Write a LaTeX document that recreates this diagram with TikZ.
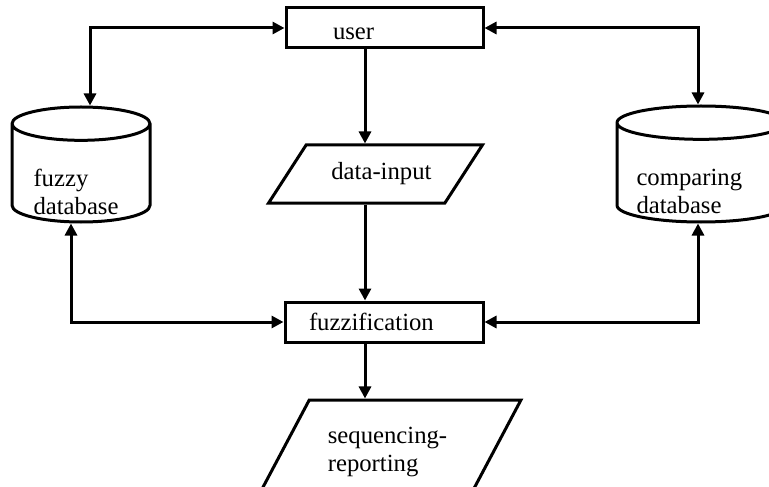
\documentclass[tikz,border=0pt]{standalone}
\usepackage{fontspec}
\setmainfont{Liberation Serif}
\usetikzlibrary{calc}
\usetikzlibrary{arrows.meta}
\usetikzlibrary{shapes.geometric}

\begin{document}
\begin{tikzpicture} [x=.5pt, y=-.5pt, line width=1.5pt,
  every node/.style={font=\fontsize{12.35}{14}\selectfont},
  box/.style={draw, rectangle, minimum height=20pt, align=left},
  slanted/.style={draw, trapezium, trapezium stretches=true, align=left},
  db/.style={draw, cylinder, shape border rotate=90, aspect=2.5, anchor=shape center},
  lbl/.style={anchor=north west, inner sep=0pt, align=left},
  arr/.style={-{Triangle[length=6pt, width=6pt]}},
  darr/.style={{Triangle[length=6pt, width=6pt]}-{Triangle[length=6pt, width=6pt]}}]

\useasboundingbox (0,0) rectangle (769,486);
\clip (0,0) rectangle (769,486);

\node[box, inner xsep=23.5pt, text width=51.5pt, text height=12pt, text depth=0pt] (user) at (384.5,28) {user};
\node[box, inner xsep=12pt, text width=75pt] (fuzz) at (384,322) {fuzzification};
\node[slanted, trapezium left angle=46.5, trapezium right angle=133.5, minimum width=107.5pt, minimum height=29pt, text width=56pt, align=right] (data) at (375.5,174) {data-input};
\node[slanted, trapezium left angle=53.4, trapezium right angle=126.6, minimum width=133.5pt, minimum height=52pt] (seq) at (387.5,452) {sequencing-\\reporting};
\node[db, minimum width=69pt, minimum height=57.5pt] (fuzzydb) at (81,164.5) {};
\node[db, minimum width=84pt, minimum height=58pt] (compdb) at (701,164) {};
\node[lbl] (fuzzytxt) at (32,168) {fuzzy\\database};
\node[lbl] (comptxt) at (635,168) {comparing\\database};

\coordinate (mid) at (365,0);

\draw[darr] (user.west) -| ($(fuzzydb.top)+(9,0)$);
\draw[darr] (user.east) -| ($(compdb.top)+(-3,0)$);
\draw[arr] (user.south -| mid) -- (data.north -| mid);
\draw[arr] (data.south -| mid) -- (fuzz.north -| mid);
\draw[arr] (fuzz.south -| mid) -- (seq.north -| mid);
\draw[darr] ($(fuzzydb.bottom)+(-10,0)$) |- (fuzz.west);
\draw[darr] ($(compdb.bottom)+(-3,0)$) |- (fuzz.east);

\end{tikzpicture}
\end{document}
